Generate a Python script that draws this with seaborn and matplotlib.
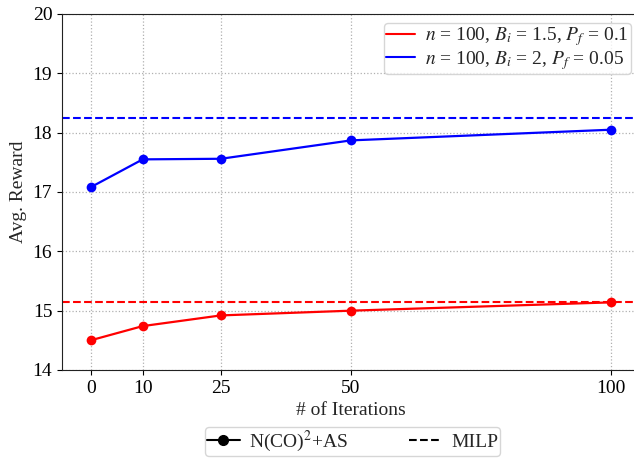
import matplotlib
matplotlib.use("Agg")
import matplotlib.pyplot as plt
import seaborn as sns
import pandas as pd
from matplotlib.lines import Line2D

iterations = [0, 10, 25, 50, 100]
red_vals = [14.50, 14.74, 14.92, 15.00, 15.14]
blue_vals = [17.08, 17.55, 17.56, 17.87, 18.05]
red_milp = 15.14
blue_milp = 18.25
labels = [r"$n$ = 100, $B_i$ = 1.5, $P_f$ = 0.1", r"$n$ = 100, $B_i$ = 2, $P_f$ = 0.05"]
colors = ["red", "blue"]

sns.set_style("ticks")
plt.rcParams['font.family'] = ['Liberation Serif', 'DejaVu Serif']
plt.rcParams['mathtext.fontset'] = 'stix'

df = pd.DataFrame({
    "iter": iterations * 2,
    "reward": red_vals + blue_vals,
    "cfg": [labels[0]] * 5 + [labels[1]] * 5,
})

fig = plt.figure(figsize=(6.34, 4.58), dpi=100)
ax = fig.add_axes([62 / 634, 88 / 458, (640 - 62) / 634, 356 / 458])
sns.lineplot(data=df, x="iter", y="reward", hue="cfg", palette=colors,
             marker="o", markersize=7, markeredgewidth=0, linewidth=1.6, ax=ax, legend=False)
ax.axhline(red_milp, color="red", linestyle="--", linewidth=1.5)
ax.axhline(blue_milp, color="blue", linestyle="--", linewidth=1.5)

ax.set_xlim(-5.5, 105.5)
ax.set_ylim(14, 20)
ax.set_xticks(iterations)
ax.set_yticks([14, 15, 16, 17, 18, 19, 20])
ax.tick_params(labelsize=14, colors="black")
ax.set_xlabel("# of Iterations", fontsize=14)
ax.set_ylabel("Avg. Reward", fontsize=14)
ax.grid(True, linestyle=":", color="#b0b0b0", linewidth=0.9)
ax.spines['right'].set_visible(False)
for s in ['left', 'bottom', 'top']:
    ax.spines[s].set_color('#222222')

h1 = [Line2D([0], [0], color=c, linewidth=1.5) for c in colors]
ax.legend(h1, labels, loc="upper right", fontsize=14, frameon=True,
          handlelength=1.5, handletextpad=0.5, labelspacing=0.02,
          borderpad=0.12, bbox_to_anchor=(1 - 9 / 578, 1 - 9 / 356),
          borderaxespad=0)

h2 = [Line2D([0], [0], color="black", marker="o", markersize=7, linewidth=1.5),
      Line2D([0], [0], color="black", linestyle="--", linewidth=1.5)]
fig.legend(h2, [r"N(CO)$^2$+AS", "MILP"], loc="lower center", ncol=2,
           bbox_to_anchor=(352.5 / 634, 2 / 458), fontsize=14, frameon=True,
           handlelength=1.7, handletextpad=0.5, columnspacing=3.1,
           borderpad=0.1, borderaxespad=0)

fig.savefig("out.png", dpi=100)
